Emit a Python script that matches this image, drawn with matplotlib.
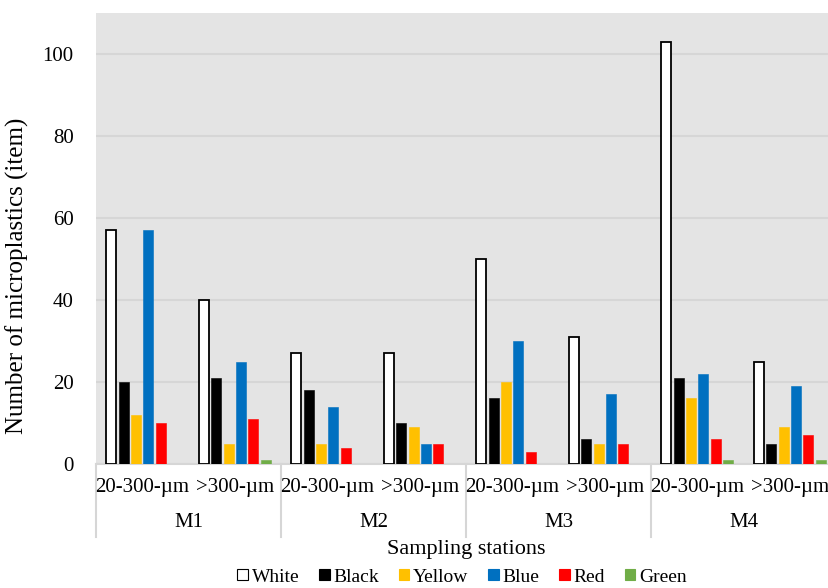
import matplotlib.pyplot as plt
import numpy as np
from matplotlib.patches import Patch

plt.rcParams['font.family'] = ['Liberation Serif', 'DejaVu Serif']

stations = ['M1', 'M2', 'M3', 'M4']
sizes = ['20-300-µm', '>300-µm']
farben = ['White', 'Black', 'Yellow', 'Blue', 'Red', 'Green']
farbcodes = ['#FFFFFF', '#000000', '#FFC000', '#0070C0', '#FF0000', '#70AD47']

# je Kategorie (M1 20-300, M1 >300, M2 20-300, ...)
white = [57, 40, 27, 27, 50, 31, 103, 25]
black = [20, 21, 18, 10, 16, 6, 21, 5]
yellow = [12, 5, 5, 9, 20, 5, 16, 9]
blue = [57, 25, 14, 5, 30, 17, 22, 19]
red = [10, 11, 4, 5, 3, 5, 6, 7]
green = [0, 1, 0, 0, 0, 0, 1, 1]
werte = [white, black, yellow, blue, red, green]

fig = plt.figure(figsize=(8.29, 5.88), dpi=100)
ax = fig.add_axes([96/829, 124/588, 740/829, 451/588])
ax.set_facecolor('#E4E4E4')

n_kat = len(white)
x = np.arange(n_kat)
schritt = 0.133
breite = 0.108
for i, (name, reihe, farbe) in enumerate(zip(farben, werte, farbcodes)):
    pos = x + (i - 2.5) * schritt
    kante = 'black' if name == 'White' else farbe
    ax.bar(pos, reihe, width=breite, color=farbe, edgecolor=kante,
           linewidth=1.3 if name == 'White' else 0.4, zorder=3)

ax.set_xlim(-0.5, n_kat - 0.5)
ax.set_ylim(0, 110)
ax.set_yticks(range(0, 101, 20))
ax.tick_params(axis='y', length=0, pad=16, labelsize=15)
ax.set_xticks([])
ax.grid(axis='y', color='#D6D6D6', linewidth=1.5, zorder=1)
for s in ['top', 'right', 'left']:
    ax.spines[s].set_visible(False)
ax.spines['bottom'].set_color('#D6D6D6')
ax.spines['bottom'].set_linewidth(1.5)

trans = ax.get_xaxis_transform()
for k in range(len(stations) + 1):
    ax.plot([2 * k - 0.5, 2 * k - 0.5], [0, -0.162], transform=trans,
            color='#D6D6D6', linewidth=1.5, clip_on=False)
for j in range(n_kat):
    ax.text(j, -0.053, sizes[j % 2], transform=trans, ha='center', va='center',
            fontsize=15)
for k, st in enumerate(stations):
    ax.text(2 * k + 0.5, -0.129, st, transform=trans, ha='center', va='center',
            fontsize=15)

ax.text(3.5, -0.19, 'Sampling stations', transform=trans, ha='center',
        va='center', fontsize=16)
ax.set_ylabel('Number of microplastics (item)', fontsize=18)
ax.yaxis.set_label_coords(-0.09, 0.417)

handles = [Patch(facecolor=f, edgecolor='black' if n == 'White' else f, linewidth=0.8)
           for n, f in zip(farben, farbcodes)]
fig.legend(handles, farben, loc='center', bbox_to_anchor=(462/829, 1 - 577/588),
           ncol=6, frameon=False, fontsize=14, handlelength=0.55, handleheight=0.55,
           handletextpad=0.2, columnspacing=1.0, borderpad=0)

plt.savefig('out.png', dpi=100)
